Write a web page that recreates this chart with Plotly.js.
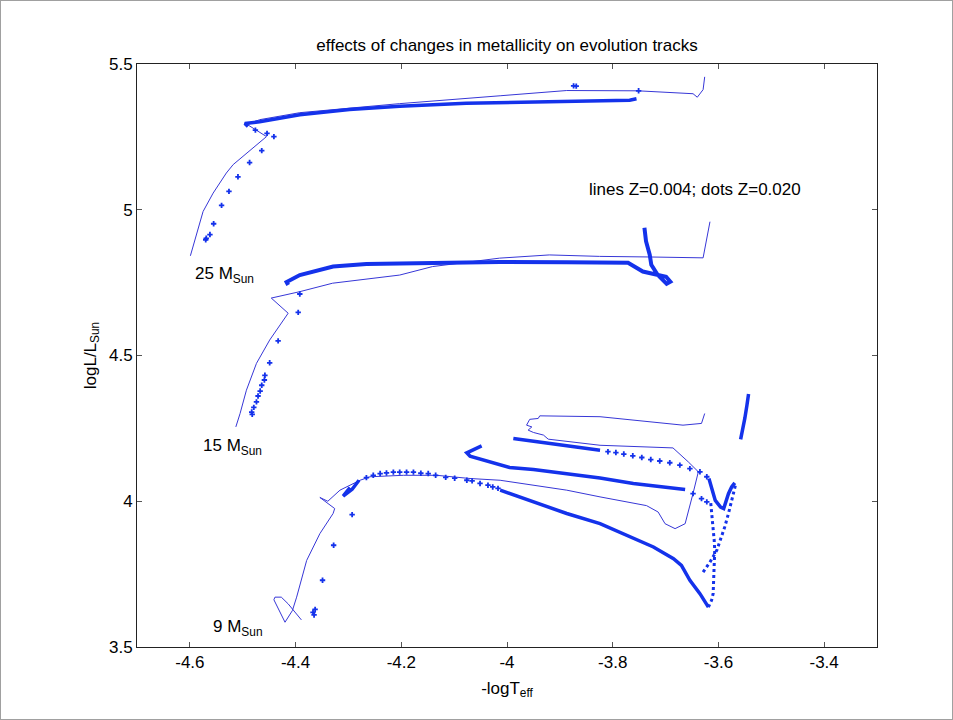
<!DOCTYPE html>
<html><head><meta charset="utf-8">
<script src="https://cdn.plot.ly/plotly-3.0.1.min.js"></script>
<style>
html,body{margin:0;padding:0;background:#fff}
#chart{width:953px;height:720px}
#frame{position:absolute;left:0;top:0;width:953px;height:720px;box-sizing:border-box;border:1px solid #a0a0a0;pointer-events:none}
</style>
</head><body><div id="chart"></div><div id="frame"></div>
<script>
// ---- tick labels ----
const xTickVals = [-4.6, -4.4, -4.2, -4, -3.8, -3.6, -3.4];
const xTickText = ["-4.6", "-4.4", "-4.2", "-4", "-3.8", "-3.6", "-3.4"];
const yTickVals = [3.5, 4, 4.5, 5, 5.5];
const yTickText = ["3.5", "4", "4.5", "5", "5.5"];

// ---- Z=0.004 tracks (lines) ----
const m25LineX = [-4.599,-4.587,-4.575,-4.556,-4.531,-4.518,-4.455,-4.491,-4.468,-4.392,-4.203,-4.013,-3.887,-3.752,-3.698,-3.648,-3.640,-3.629,-3.626];
const m25LineY = [4.842,4.920,4.994,5.057,5.126,5.155,5.251,5.292,5.309,5.333,5.364,5.391,5.409,5.408,5.402,5.398,5.386,5.412,5.456];

const m15LineX = [-4.513,-4.505,-4.493,-4.474,-4.449,-4.427,-4.414,-4.446,-4.392,-4.330,-4.279,-4.203,-4.141,-4.014,-3.920,-3.825,-3.730,-3.629,-3.616];
const m15LineY = [4.255,4.301,4.381,4.473,4.553,4.611,4.645,4.697,4.719,4.748,4.759,4.776,4.805,4.834,4.845,4.840,4.838,4.835,4.959];

const m9LineX = [-4.389,-4.414,-4.427,-4.439,-4.441,-4.436,-4.420,-4.406,-4.398,-4.379,-4.354,-4.329,-4.326,-4.354,-4.339,-4.316,-4.297,-4.278,-4.259,-4.196,-4.133,-4.070,-4.013,-3.887,-3.824,-3.736,-3.714,-3.701,-3.682,-3.663,-3.648,-3.638,-3.657,-3.686,-3.824,-3.887,-3.922,-3.931,-3.950,-3.960,-3.953,-3.963,-3.957,-3.941,-3.938,-3.824,-3.667,-3.632,-3.626];
const m9LineY = [3.593,3.648,3.671,3.671,3.662,3.643,3.585,3.625,3.671,3.797,3.889,3.958,3.975,4.013,4.000,4.038,4.055,4.072,4.084,4.089,4.089,4.078,4.072,4.038,4.015,3.985,3.963,3.923,3.906,3.923,4.027,4.101,4.135,4.183,4.192,4.204,4.213,4.227,4.236,4.244,4.255,4.261,4.281,4.284,4.293,4.290,4.261,4.267,4.301];

// ---- Z=0.020 tracks (dots) ----
const m25DotsX = [-4.570,-4.569,-4.562,-4.555,-4.540,-4.526,-4.509,-4.487,-4.464,-4.441,-4.454,-4.476,-3.874,-3.869,-3.751];
const m25DotsY = [4.897,4.902,4.915,4.952,5.015,5.063,5.113,5.162,5.203,5.251,5.262,5.273,5.425,5.424,5.408];
const m25DenseX = [-4.490,-4.496,-4.468,-4.392,-4.298,-4.203,-4.077,-3.952,-3.825,-3.768,-3.755];
const m25DenseY = [5.286,5.296,5.302,5.326,5.344,5.355,5.365,5.369,5.373,5.376,5.381];

const m15DotsX = [-4.482,-4.483,-4.479,-4.474,-4.471,-4.467,-4.464,-4.459,-4.458,-4.449,-4.433,-4.395,-4.392];
const m15DotsY = [4.298,4.306,4.322,4.341,4.361,4.378,4.398,4.416,4.432,4.475,4.550,4.648,4.711];
const m15DenseX = [-4.414,-4.417,-4.392,-4.329,-4.266,-4.203,-4.014,-3.888,-3.771,-3.743,-3.699,-3.691,-3.698,-3.715,-3.727,-3.730,-3.737,-3.740];
const m15DenseY = [4.742,4.752,4.776,4.805,4.814,4.816,4.821,4.820,4.818,4.788,4.770,4.753,4.746,4.777,4.811,4.846,4.892,4.938];

const m9DotsX = [-4.367,-4.363,-4.365,-4.349,-4.328,-4.293,
  -4.266,-4.253,-4.240,-4.228,-4.215,-4.203,-4.190,-4.177,-4.163,-4.149,-4.135,-4.116,-4.099,-4.076,-4.066,-4.051,-4.036,-4.027,-4.017,
  -3.809,-3.794,-3.779,-3.762,-3.745,-3.728,-3.711,-3.692,-3.673,-3.654,-3.635,-3.622,
  -3.648,-3.632,-3.622];
const m9DotsY = [3.619,3.629,3.610,3.729,3.849,3.954,
  4.081,4.089,4.095,4.097,4.100,4.100,4.100,4.100,4.096,4.095,4.089,4.082,4.079,4.072,4.070,4.061,4.055,4.049,4.044,
  4.170,4.167,4.162,4.156,4.150,4.143,4.138,4.132,4.124,4.112,4.101,4.084,
  4.026,4.009,3.998];
// solid dense segments (null separates segments)
const m9DenseX = [-4.297,-4.310,-4.293,-4.280, null,
  -4.013,-3.950,-3.887,-3.824,-3.761,-3.723,-3.685,-3.670,-3.654,-3.635,-3.619, null,
  -3.988,-3.950,-3.887,-3.824, null,
  -4.048,-4.076,-4.070,-3.995,-3.950,-3.887,-3.824,-3.761,-3.698,-3.663, null,
  -3.618,-3.612,-3.606,-3.596,-3.590,-3.581,-3.575,-3.569, null,
  -3.558,-3.554,-3.550,-3.546,-3.543];
const m9DenseY = [4.047,4.018,4.041,4.072, null,
  4.038,3.998,3.958,3.923,3.872,3.843,3.803,3.780,3.729,3.683,3.637, null,
  4.215,4.206,4.192,4.175, null,
  4.190,4.166,4.155,4.116,4.109,4.095,4.080,4.061,4.047,4.040, null,
  4.078,4.038,4.003,3.980,3.975,4.026,4.049,4.063, null,
  4.212,4.244,4.285,4.330,4.368];
// dotted dense segments (column and right branch)
const m9DottedX = [-3.619,-3.613,-3.610,-3.609,-3.608,-3.607,-3.607,-3.608,-3.610,-3.611,-3.613,-3.615, null,
  -3.629,-3.616,-3.603,-3.594,-3.588,-3.581,-3.575,-3.569,-3.567];
const m9DottedY = [3.637,3.660,3.683,3.729,3.763,3.797,3.832,3.866,3.900,3.935,3.969,4.003, null,
  3.757,3.791,3.832,3.877,3.912,3.958,4.003,4.049,4.061];

const TITLE = "effects of changes in metallicity on evolution tracks";
const FONT = "Liberation Sans, Arial, Helvetica, sans-serif";
const FS = 17;
const LINE_COLOR = "rgb(55,55,215)";
const DOT_COLOR = "rgb(20,50,235)";

function lineTrace(x, y) {
  return {x, y, type: "scatter", mode: "lines", line: {color: LINE_COLOR, width: 1}, hoverinfo: "skip"};
}
function dotTrace(x, y) {
  return {x, y, type: "scatter", mode: "markers", marker: {symbol: "cross", size: 4.5, color: DOT_COLOR, line: {width: 0}}, hoverinfo: "skip"};
}
function denseTrace(x, y, w, dash) {
  return {x, y, type: "scatter", mode: "lines", connectgaps: false, line: {color: DOT_COLOR, width: w, dash: dash || "solid"}, hoverinfo: "skip"};
}

const data = [
  lineTrace(m25LineX, m25LineY),
  lineTrace(m15LineX, m15LineY),
  lineTrace(m9LineX, m9LineY),
  dotTrace(m25DotsX, m25DotsY),
  denseTrace(m25DenseX, m25DenseY, 3.5),
  dotTrace(m15DotsX, m15DotsY),
  denseTrace(m15DenseX, m15DenseY, 4),
  dotTrace(m9DotsX, m9DotsY),
  denseTrace(m9DenseX, m9DenseY, 3.5),
  denseTrace(m9DottedX, m9DottedY, 3, "dot")
];

const axisCommon = {
  ticks: "inside", ticklen: 5, tickcolor: "#555", tickwidth: 1,
  showline: true, linecolor: "#222", linewidth: 1, mirror: "ticks",
  showgrid: false, zeroline: false, automargin: false,
  tickfont: {family: FONT, size: FS, color: "#000"}
};

const layout = {
  width: 953, height: 720,
  margin: {l: 137, r: 76, t: 64, b: 73},
  paper_bgcolor: "#fff", plot_bgcolor: "#fff",
  showlegend: false,
  font: {family: FONT, size: FS, color: "#000"},
  title: {text: TITLE, x: 0.5, xref: "paper", xanchor: "center", y: 1 - 45/720, yref: "container", yanchor: "middle", font: {family: FONT, size: FS, color: "#000"}},
  xaxis: Object.assign({}, axisCommon, {range: [-4.7, -3.3], tickmode: "array", tickvals: xTickVals, ticktext: xTickText,
    title: {text: "-logT<sub>eff</sub>", standoff: 10, font: {family: FONT, size: FS}}}),
  yaxis: Object.assign({}, axisCommon, {range: [3.5, 5.5], tickmode: "array", tickvals: yTickVals, ticktext: yTickText,
    title: {text: "logL/L<sub>Sun</sub>", standoff: 8, font: {family: FONT, size: FS}}}),
  annotations: [
    {text: "25 M<sub>Sun</sub>", x: -4.594, y: 4.777, xref: "x", yref: "y", xanchor: "left", yanchor: "middle", showarrow: false, font: {family: FONT, size: FS}},
    {text: "15 M<sub>Sun</sub>", x: -4.578, y: 4.187, xref: "x", yref: "y", xanchor: "left", yanchor: "middle", showarrow: false, font: {family: FONT, size: FS}},
    {text: "9 M<sub>Sun</sub>", x: -4.560, y: 3.565, xref: "x", yref: "y", xanchor: "left", yanchor: "middle", showarrow: false, font: {family: FONT, size: FS}},
    {text: "lines Z=0.004; dots Z=0.020", x: -3.848, y: 5.069, xref: "x", yref: "y", xanchor: "left", yanchor: "middle", showarrow: false, font: {family: FONT, size: FS}}
  ]
};

Plotly.newPlot("chart", data, layout, {displayModeBar: false});
</script></body></html>
